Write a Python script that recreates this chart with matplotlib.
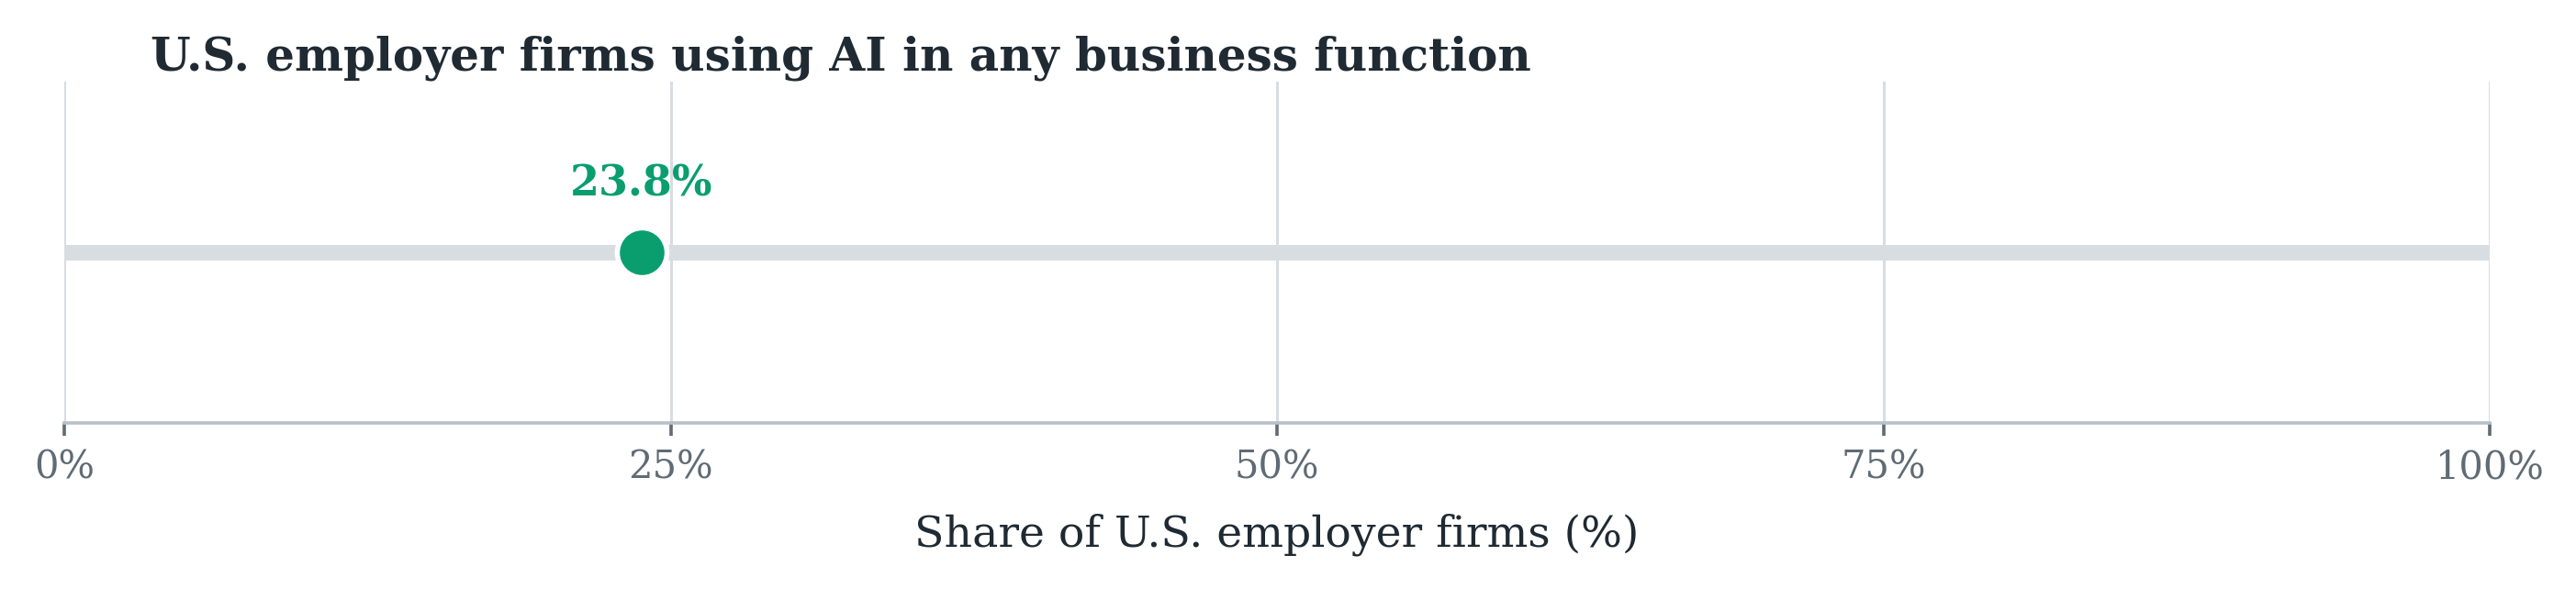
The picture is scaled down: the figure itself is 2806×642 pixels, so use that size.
import matplotlib
matplotlib.use("Agg")
import matplotlib.pyplot as plt

# data
share = [23.8]
rows = [0]
xticks = [0, 25, 50, 75, 100]
xtick_labels = ["0%", "25%", "50%", "75%", "100%"]
title = "U.S. employer firms using AI in any business function"
xlabel = "Share of U.S. employer firms (%)"

green = "#0a9e6f"
dark = "#1f2a33"
grey_txt = "#5f6b75"

plt.rcParams["font.family"] = ["DejaVu Serif"]

W, H = 2806, 642
fig = plt.figure(figsize=(W / 100, H / 100), dpi=100)
ax = fig.add_axes([70 / W, 1 - 461 / H, (2712 - 70) / W, (461 - 89) / H])

# background track
ax.plot([0, 100], [0, 0], color="#d8dde2", lw=12.2, solid_capstyle="butt", zorder=2)
# grid lines
for t in xticks:
    ax.axvline(t, color="#d8dde2", lw=2.2, zorder=1)

ax.scatter(share, rows, s=39 ** 2, color=green, edgecolor="white", linewidth=4, zorder=4)
for v, r in zip(share, rows):
    ax.annotate(f"{v}%", (v, r), xytext=(0, 44), textcoords="offset points",
                ha="center", va="baseline", fontsize=33, fontweight="bold", color=green)

ax.set_xlim(0, 100)
ax.set_ylim(-1, 1)
ax.set_yticks([])
ax.set_xticks(xticks)
ax.set_xticklabels(xtick_labels, fontsize=30, color=grey_txt)
ax.tick_params(axis="x", length=10, width=2.6, color=grey_txt, pad=10)
for s in ["top", "right", "left"]:
    ax.spines[s].set_visible(False)
ax.spines["bottom"].set_color("#b6c0c9")
ax.spines["bottom"].set_linewidth(2.6)
ax.spines["bottom"].set_zorder(3)

fig.text(1391 / W, 1 - 595 / H, xlabel, ha="center", va="baseline",
         fontsize=34, color=dark)

fig.text(164 / W, 1 - 77 / H, title, ha="left", va="baseline",
         fontsize=36, fontweight="bold", color=dark)

fig.savefig("out.png", dpi=100, facecolor="white")
